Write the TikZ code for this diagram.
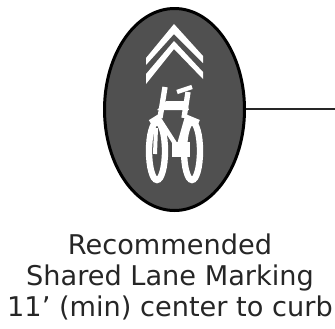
\documentclass[tikz,border=0pt]{standalone}
\usepackage{fontspec}
\setmainfont{DejaVu Sans}
\usetikzlibrary{shapes, positioning}
\definecolor{markgray}{RGB}{80,80,80}
\tikzset{
    bikeline/.style={white, line width=1.6mm},
    wheelline/.style={white, line width=1.9mm}
}
\begin{document}
\begin{tikzpicture}[x=0.3mm,y=-0.3mm]
    \useasboundingbox (0,0) rectangle (335,328);
    % Marking
    \node[ellipse, draw=black, line width=0.9mm, fill=markgray, minimum width=42mm, minimum height=60.6mm, inner sep=0pt] (marking) at (174.5,109.5) {};
    \coordinate (lineend) at (335,109);
    \draw[line width=0.7mm, black!85] (marking.east |- lineend) -- (lineend);
    % Chevrons
    \fill[white] (174,24) -- (203,56) -- (203,63) -- (174,34) -- (146,65) -- (146,58) -- cycle;
    \fill[white] (174,41) -- (203,72) -- (203,79) -- (174,49) -- (146,84) -- (146,74) -- cycle;
    % Wheels
    \draw[wheelline] (157,151) ellipse (8 and 29);
    \draw[wheelline] (192,151) ellipse (8 and 29);
    % Frame
    \draw[bikeline] (165,87) -- (160,118);
    \draw[bikeline] (188,92) -- (184,118);
    \draw[bikeline, line width=1.3mm] (177,92) -- (192,87);
    \fill[white] (166,101) -- (186,101) -- (189,110) -- (157,110) -- cycle;
    \draw[bikeline, line width=1.3mm] (150,122) -- (158,117) -- (176,145);
    \draw[bikeline, line width=1.3mm] (199,122) -- (187,117) -- (179,145);
    \draw[bikeline, line width=1.2mm] (156,128) -- (155,154);
    \fill[white] (172,142) -- (190,142) -- (190,157) -- (172,157) -- cycle;
    % Text
    \node[font=\fontsize{23.2}{26.4}\selectfont, text=black!85, align=center] (label) at (170,277) {Recommended\\Shared Lane Marking\\11' (min) center to curb};
\end{tikzpicture}
\end{document}
